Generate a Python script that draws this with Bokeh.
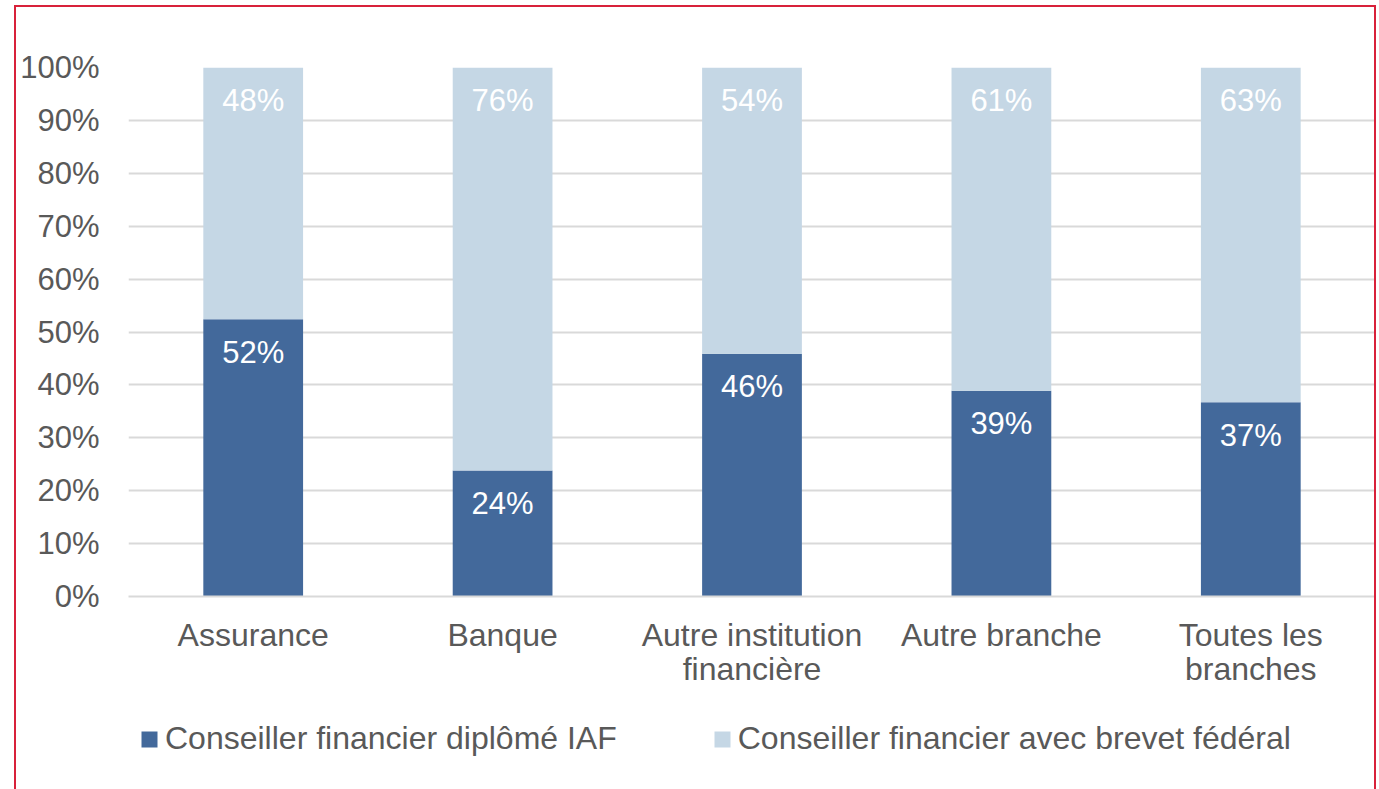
from bokeh.plotting import figure
from bokeh.layouts import column
from bokeh.models import (ColumnDataSource, FactorRange, Range1d, FixedTicker,
                          NumeralTickFormatter, LabelSet, InlineStyleSheet,
                          Legend, LegendItem)
from bokeh.core.properties import value
from bokeh.embed import file_html
from bokeh.resources import INLINE

categories = ["Assurance", "Banque", "Autre institution\nfinancière",
              "Autre branche", "Toutes les\nbranches"]
iaf = [0.524, 0.238, 0.459, 0.389, 0.367]
brevet = [0.476, 0.762, 0.541, 0.611, 0.633]
series_names = ["Conseiller financier diplômé IAF",
                "Conseiller financier avec brevet fédéral"]
y_ticks = [i / 10 for i in range(11)]

DARK = "#43699B"
LIGHT = "#C5D7E5"
GREY = "#595959"
FONT = "Liberation Sans"
FS = "31px"
FS_X = "32px"
W = 1379
H_CHART = 700
H_LEG = 89

src = ColumnDataSource(dict(
    cat=categories,
    iaf=iaf,
    brevet=brevet,
    top_iaf=iaf,
    top_all=[a + b for a, b in zip(iaf, brevet)],
    lab_iaf=[f"{round(v * 100)}%" for v in iaf],
    lab_brevet=[f"{round(v * 100)}%" for v in brevet],
))

p = figure(x_range=FactorRange(*categories, range_padding=0),
           y_range=Range1d(0, 1),
           width=W, height=H_CHART, output_backend="svg",
           toolbar_location=None, tools="")
p.min_border_left = 128
p.min_border_right = 4
p.min_border_top = 67
p.min_border_bottom = H_CHART - 596
p.outline_line_color = None
p.background_fill_color = None
p.border_fill_color = None

p.vbar_stack(["iaf", "brevet"], x="cat", width=0.4, source=src,
             color=[DARK, LIGHT], line_color=None)

for col_top, col_lab in (("top_iaf", "lab_iaf"), ("top_all", "lab_brevet")):
    ls = LabelSet(x="cat", y=col_top, text=col_lab, source=src,
                  text_align="center", text_baseline="middle",
                  y_offset=-33, text_color="white",
                  text_font=value(FONT), text_font_size=value(FS))
    p.add_layout(ls)

# axes
p.yaxis.ticker = FixedTicker(ticks=y_ticks)
p.yaxis.formatter = NumeralTickFormatter(format="0%")
p.yaxis.axis_line_color = None
p.yaxis.major_tick_line_color = None
p.yaxis.minor_tick_line_color = None
p.yaxis.major_label_standoff = 23
p.yaxis.major_label_text_font = FONT
p.yaxis.major_label_text_font_size = FS
p.yaxis.major_label_text_color = GREY

p.xaxis.axis_line_color = "#D9D9D9"
p.xaxis.axis_line_width = 2
p.xaxis.major_tick_line_color = None
p.xaxis.minor_tick_line_color = None
p.xaxis.major_label_standoff = 14
p.xaxis.major_label_text_font = FONT
p.xaxis.major_label_text_font_size = FS_X
p.xaxis.major_label_text_line_height = 0.95
p.xaxis.major_label_text_color = GREY

p.xgrid.grid_line_color = None
p.ygrid.grid_line_color = "#D9D9D9"
p.ygrid.grid_line_width = 2
p.ygrid.ticker = FixedTicker(ticks=y_ticks)

# legend strip below the chart (series renderers kept outside its view range)
pl = figure(width=W, height=H_LEG, output_backend="svg",
            toolbar_location=None, tools="",
            x_range=FactorRange(*categories, range_padding=0),
            y_range=Range1d(2, 3),
            x_axis_type=None, y_axis_type=None)
pl.min_border = 0
pl.outline_line_color = None
pl.background_fill_color = None
pl.border_fill_color = None
pl.xgrid.visible = False
pl.ygrid.visible = False
r_dark, r_light = pl.vbar_stack(["iaf", "brevet"], x="cat", width=0.4,
                                source=src, color=[DARK, LIGHT],
                                line_color=None)
lg = Legend(items=[LegendItem(label=series_names[0], renderers=[r_dark]),
                   LegendItem(label=series_names[1], renderers=[r_light])],
            orientation="horizontal", location=(11, 32),
            glyph_width=20, glyph_height=20, label_standoff=6, spacing=95,
            padding=0, margin=0, border_line_color=None,
            background_fill_alpha=0, label_text_font=FONT,
            label_text_font_size=FS_X, label_text_color=GREY)
pl.add_layout(lg, "center")

layout = column(p, pl, spacing=0)
layout.stylesheets = [InlineStyleSheet(css="""
:host { position: relative; overflow: hidden; background: white; }
:host::after {
  content: ''; position: absolute; left: 14px; top: 5px;
  width: 1362px; height: 820px; border: 2px solid #D8213A;
  box-sizing: border-box; pointer-events: none;
}
""")]

open("out.html", "w").write(file_html(layout, INLINE))
